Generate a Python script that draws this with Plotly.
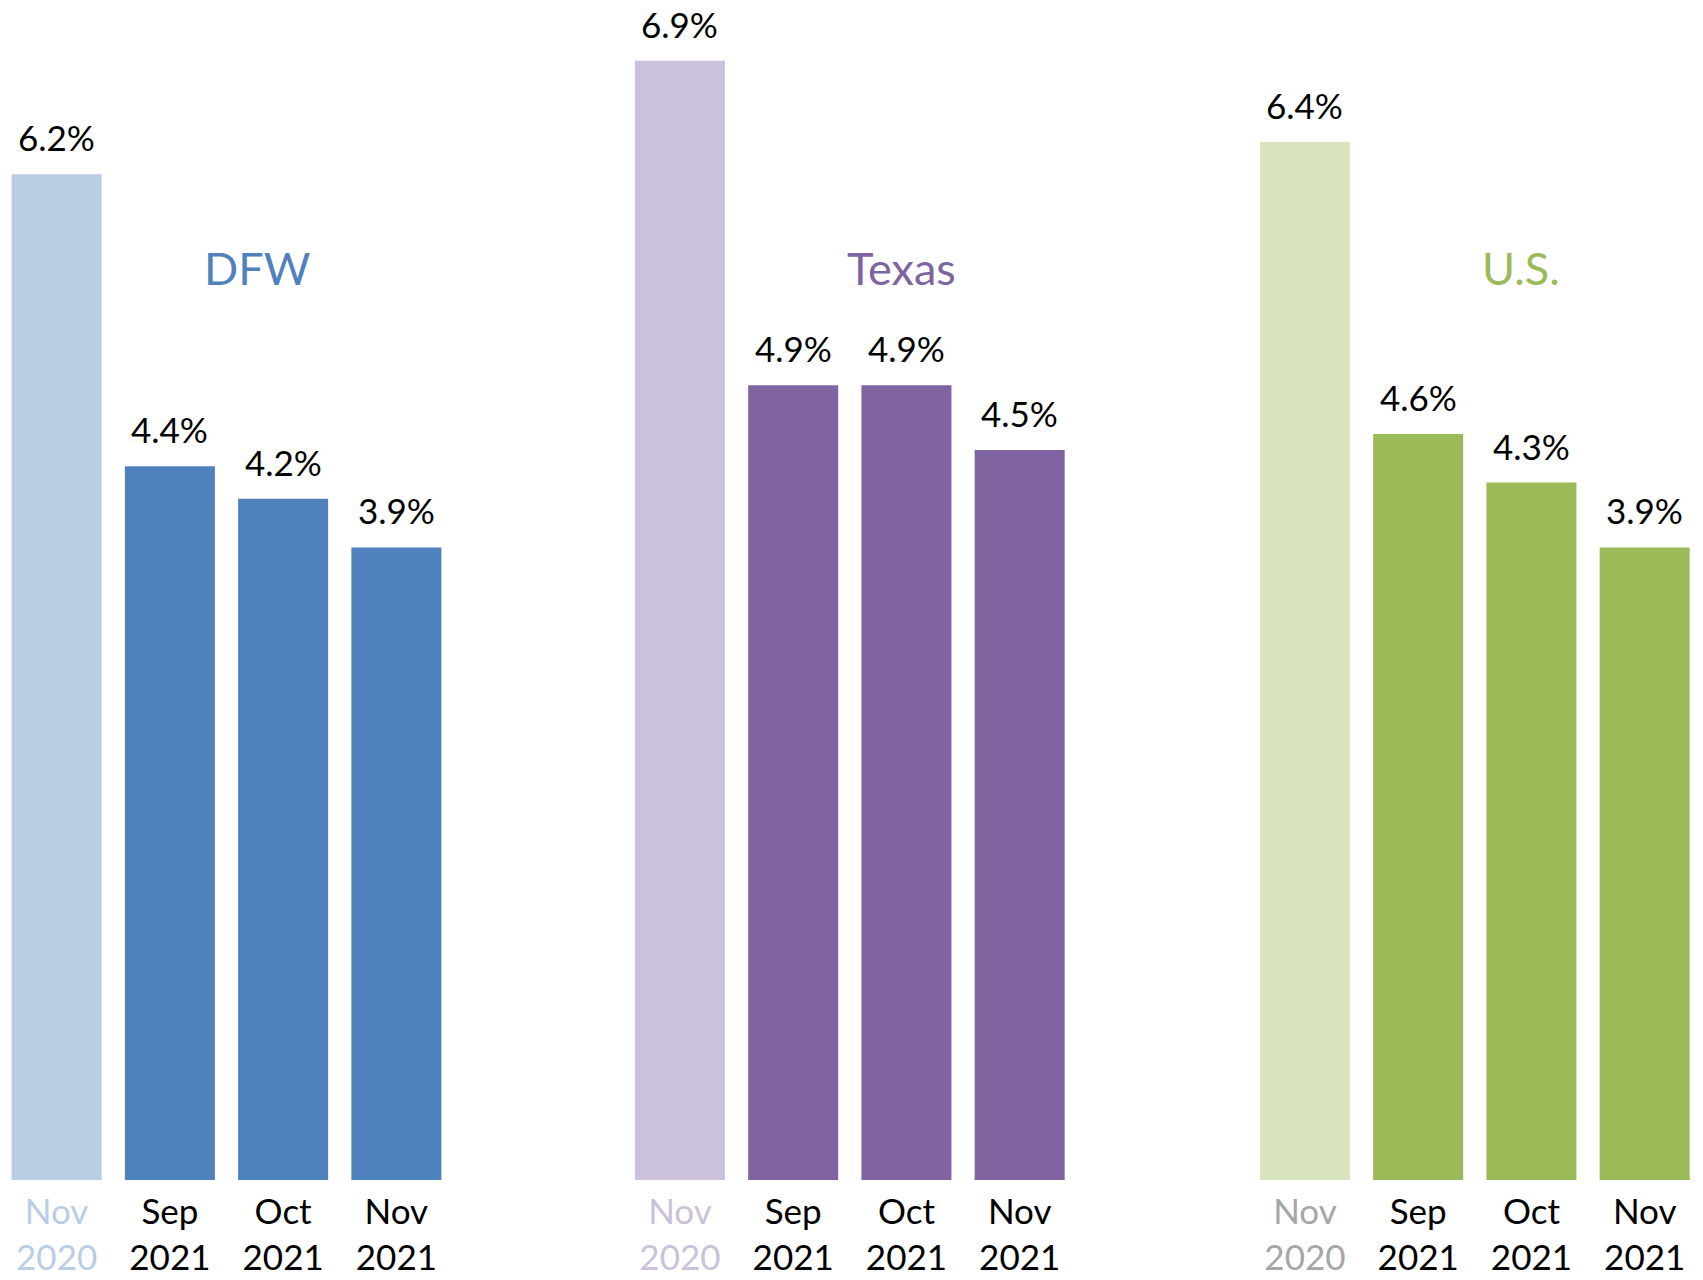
import plotly.graph_objects as go
from plotly.subplots import make_subplots

# Unemployment rate by area, November 2020 vs. the last three months of 2021
periods = ["Nov 2020", "Sep 2021", "Oct 2021", "Nov 2021"]
areas = ["DFW", "Texas", "U.S."]
dfw = [6.2, 4.4, 4.2, 3.9]
texas = [6.9, 4.9, 4.9, 4.5]
us = [6.4, 4.6, 4.3, 3.9]

series = [dfw, texas, us]
dark = ["#4f81bd", "#8064a2", "#9bbb59"]
light = ["#b9cde5", "#ccc1da", "#d7e4bd"]
first_tick_color = ["#b9cde5", "#ccc1da", "#a6a6a6"]
title_x = [0.567, 0.614, 0.602]

FONT = "Lato"

fig = make_subplots(rows=1, cols=3, shared_yaxes=True, horizontal_spacing=0.1)

for i, (name, vals) in enumerate(zip(areas, series)):
    col = i + 1
    colors = [light[i]] + [dark[i]] * (len(vals) - 1)
    fig.add_trace(
        go.Bar(x=periods, y=vals, marker=dict(color=colors, line_width=0),
               name=name, showlegend=False, hoverinfo="x+y"),
        row=1, col=col,
    )
    # value labels above each bar
    for p, v in zip(periods, vals):
        fig.add_annotation(
            x=p, y=v, xref=f"x{'' if col == 1 else col}", yref="y",
            text=f"{v:.1f}%", showarrow=False, yanchor="bottom", yshift=14,
            font=dict(family=FONT, size=35, color="#000000"),
        )
    # area name inside the panel
    fig.add_annotation(
        x=title_x[i], xref=f"x{'' if col == 1 else col} domain",
        y=(1180 - 268) / 1180, yref="paper", yanchor="middle",
        text=name, showarrow=False,
        font=dict(family=FONT, size=45, color=dark[i]),
    )
    # tick labels: the 2020 baseline is greyed out in the panel's tint
    ticktext = []
    for j, p in enumerate(periods):
        m, yr = p.split(" ")
        if j == 0:
            c = first_tick_color[i]
            ticktext.append(f"<span style='color:{c}'>{m}</span><br><span style='color:{c}'>{yr}</span>")
        else:
            ticktext.append(f"{m}<br>{yr}")
    fig.update_xaxes(
        tickmode="array", tickvals=periods, ticktext=ticktext,
        showline=False, showgrid=False, zeroline=False, ticks="",
        ticklabelstandoff=8, automargin=False,
        tickfont=dict(family=FONT, size=35, color="#000000"),
        row=1, col=col,
    )

# panel widths: three equal panels spanning the full width
W = 1703.0
panel = 453.0
starts = [0.0, 623.3, 1248.3]
for i, s in enumerate(starts):
    key = "xaxis" if i == 0 else f"xaxis{i + 1}"
    fig.layout[key].domain = [s / W, min((s + panel) / W, 1.0)]

fig.update_yaxes(range=[0, 1180 / 162.2], visible=False, showgrid=False,
                 zeroline=False, automargin=False)

fig.update_layout(
    width=1703, height=1280,
    margin=dict(l=0, r=0, t=0, b=100),
    bargap=0.205,
    plot_bgcolor="#ffffff", paper_bgcolor="#ffffff",
    font=dict(family=FONT, size=35, color="#000000"),
)

fig.write_html("out.html")
